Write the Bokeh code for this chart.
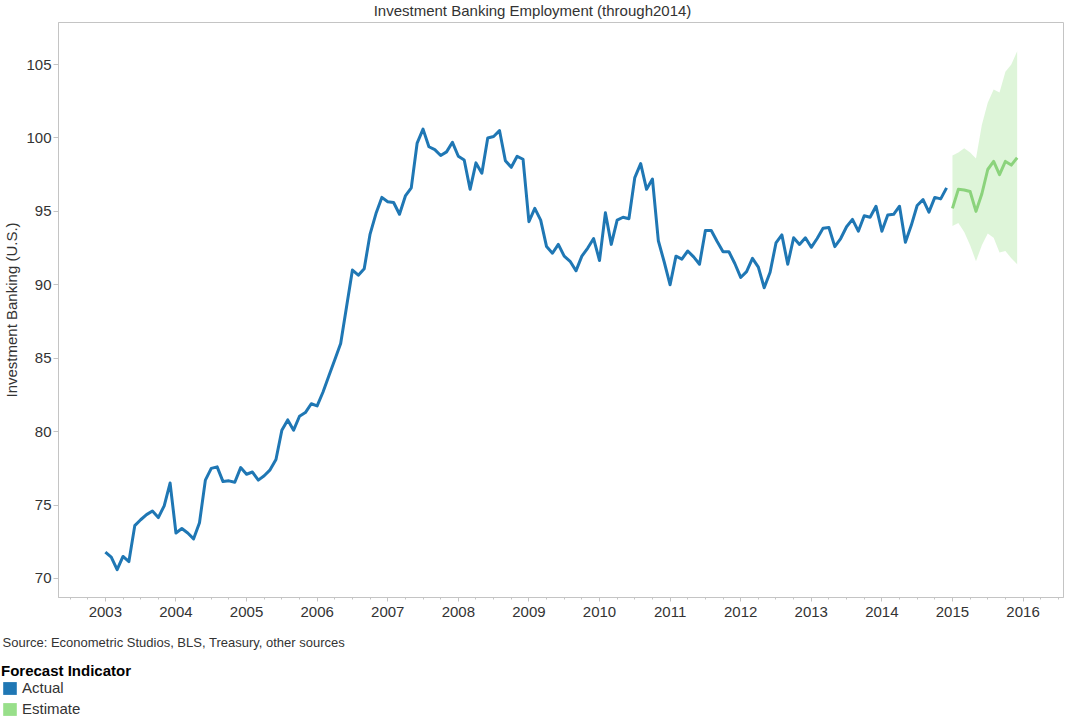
import pandas as pd
from bokeh.plotting import figure
from bokeh.layouts import column
from bokeh.models import Range1d, FixedTicker, Label, Legend, LegendItem, ColumnDataSource
from bokeh.embed import file_html
from bokeh.resources import INLINE

# ---------------- data ----------------
actual_start = "2003-01-01"
actual = [
    71.8, 71.45, 70.6, 71.5, 71.15, 73.6, 74.0, 74.35, 74.6, 74.15, 74.95, 76.5,      # 2003
    73.1, 73.4, 73.1, 72.7, 73.8, 76.7, 77.5, 77.6, 76.6, 76.65, 76.55, 77.55,        # 2004
    77.1, 77.25, 76.7, 77.0, 77.4, 78.1, 80.1, 80.8, 80.1, 81.05, 81.3, 81.9,         # 2005
    81.75, 82.7, 83.8, 84.9, 86.0, 88.5, 91.0, 90.65, 91.1, 93.45, 94.85, 95.95,      # 2006
    95.65, 95.6, 94.8, 96.05, 96.6, 99.65, 100.6, 99.4, 99.2, 98.8, 99.05, 99.7,      # 2007
    98.75, 98.5, 96.5, 98.3, 97.6, 100.0, 100.1, 100.5, 98.45, 98.0, 98.75, 98.55,    # 2008
    94.3, 95.2, 94.4, 92.6, 92.15, 92.75, 91.95, 91.6, 90.95, 91.95, 92.5, 93.15,     # 2009
    91.65, 94.9, 92.75, 94.4, 94.6, 94.5, 97.3, 98.25, 96.5, 97.2, 93.0, 91.55,       # 2010
    90.0, 91.95, 91.75, 92.3, 91.9, 91.4, 93.7, 93.7, 92.95, 92.25, 92.25, 91.45,     # 2011
    90.5, 90.9, 91.8, 91.2, 89.8, 90.85, 92.85, 93.4, 91.4, 93.2, 92.75, 93.2,        # 2012
    92.55, 93.15, 93.85, 93.9, 92.6, 93.15, 93.95, 94.45, 93.65, 94.7, 94.6, 95.35,   # 2013
    93.65, 94.75, 94.8, 95.35, 92.9, 94.05, 95.4, 95.8, 94.95, 95.95, 95.85, 96.6,    # 2014
]
estimate_start = "2015-01-01"
estimate = [95.2, 96.5, 96.45, 96.35, 95.0, 96.2, 97.85, 98.4, 97.5, 98.4, 98.15, 98.65]
estimate_upper = [98.8, 99.0, 99.3, 99.0, 98.6, 100.9, 102.4, 103.3, 103.1, 104.5, 105.0, 105.9]
estimate_lower = [94.0, 94.2, 93.6, 92.7, 91.6, 92.7, 93.5, 93.2, 92.2, 92.3, 91.8, 91.4]

year_ticks = list(range(2003, 2017))
year_labels = [str(y) for y in year_ticks]
value_ticks = [70, 75, 80, 85, 90, 95, 100, 105]

title_text = "Investment Banking Employment (through2014)"
y_label_text = "Investment Banking (U.S.)"
source_text = "Source: Econometric Studios, BLS, Treasury, other sources"
legend_title = "Forecast Indicator"
legend_labels = ["Actual", "Estimate"]


def decimal_year(start, n):
    d = pd.date_range(start, periods=n, freq="MS")
    return [dt.year + (dt.month - 1) / 12.0 for dt in d]


act_src = ColumnDataSource(dict(x=decimal_year(actual_start, len(actual)), y=actual))
est_src = ColumnDataSource(dict(x=decimal_year(estimate_start, len(estimate)), y=estimate,
                                lo=estimate_lower, hi=estimate_upper))

# ---------------- styling ----------------
FONT = "Liberation Sans"
TXT = "#333333"
BLUE = "#1f77b4"
GREEN = "#98df8a"
GREEN_LINE = "#8bd37c"
GRID = "#c4c4c4"
W = 1065
H_TOP, H_MAIN, H_BOT = 21, 604, 94


def blank_panel(h):
    f = figure(width=W, height=h, output_backend="svg", toolbar_location=None,
               x_range=Range1d(0, W), y_range=Range1d(0, h),
               x_axis_location=None, y_axis_location=None, frame_align=False,
               min_border=0, min_border_left=0, min_border_right=0,
               min_border_top=0, min_border_bottom=0)
    f.outline_line_color = None
    f.grid.visible = False
    f.background_fill_color = "white"
    f.border_fill_color = "white"
    return f


# ---------------- title strip ----------------
p_top = blank_panel(H_TOP)
p_top.add_layout(Label(x=532, y=11, text=title_text, text_align="center",
                       text_baseline="alphabetic", text_font=FONT,
                       text_font_size="15px", text_color=TXT))

# ---------------- main chart ----------------
p = figure(width=W, height=H_MAIN, output_backend="svg", toolbar_location=None,
           x_range=Range1d(2002.336, 2016.573), y_range=Range1d(68.706, 107.86),
           frame_align=False,
           min_border_left=55, min_border_right=2, min_border_top=1, min_border_bottom=28)
p.background_fill_color = "white"
p.border_fill_color = "white"
p.outline_line_color = GRID
p.outline_line_width = 1
p.grid.visible = False

xa = p.xaxis[0]
xa.ticker = FixedTicker(ticks=year_ticks,
                        minor_ticks=[y + q / 4 for y in range(2002, 2017) for q in range(4)])
xa.major_label_overrides = {y: l for y, l in zip(year_ticks, year_labels)}
xa.axis_line_color = GRID
xa.major_tick_line_color = GRID
xa.minor_tick_line_color = GRID
xa.major_tick_in = 0
xa.major_tick_out = 4
xa.minor_tick_in = 0
xa.minor_tick_out = 2
xa.major_label_standoff = 5
xa.major_label_text_font = FONT
xa.major_label_text_font_size = "15px"
xa.major_label_text_color = TXT

ya = p.yaxis[0]
ya.ticker = FixedTicker(ticks=value_ticks)
ya.axis_line_color = GRID
ya.major_tick_line_color = GRID
ya.minor_tick_line_color = None
ya.major_tick_in = 0
ya.major_tick_out = 5
ya.major_label_standoff = 2
ya.major_label_text_font = FONT
ya.major_label_text_font_size = "15px"
ya.major_label_text_color = TXT
ya.axis_label = y_label_text
ya.axis_label_standoff = 3
ya.axis_label_text_font = FONT
ya.axis_label_text_font_size = "15px"
ya.axis_label_text_font_style = "normal"
ya.axis_label_text_color = TXT

p.varea(x="x", y1="lo", y2="hi", source=est_src, fill_color=GREEN, fill_alpha=0.32)
p.line(x="x", y="y", source=act_src, line_color=BLUE, line_width=3, line_join="round")
p.line(x="x", y="y", source=est_src, line_color=GREEN_LINE, line_width=3, line_join="round")

# ---------------- source + legend strip ----------------
p_bot = blank_panel(H_BOT)
p_bot.add_layout(Label(x=2, y=77, text=source_text, text_align="left",
                       text_baseline="alphabetic", text_font=FONT,
                       text_font_size="13px", text_color=TXT))
# zero-area swatch renderers: only their legend glyphs are visible
sw_a = p_bot.quad(left=[0], right=[0], top=[0], bottom=[0], fill_color=BLUE, line_color=None)
sw_e = p_bot.quad(left=[0], right=[0], top=[0], bottom=[0], fill_color=GREEN, line_color=None)
legend = Legend(items=[LegendItem(label=legend_labels[0], renderers=[sw_a]),
                       LegendItem(label=legend_labels[1], renderers=[sw_e])],
                location=(1, 2), title=legend_title,
                title_text_font=FONT, title_text_font_size="15px", title_text_font_style="bold",
                title_text_color="black", title_standoff=0,
                label_text_font=FONT, label_text_font_size="15px", label_text_color=TXT,
                glyph_width=17, glyph_height=16, label_height=16, label_standoff=4,
                spacing=4, padding=0, margin=0,
                border_line_color=None, background_fill_alpha=0)
p_bot.add_layout(legend)

layout = column(p_top, p, p_bot, spacing=0)
open("out.html", "w").write(file_html(layout, INLINE))
